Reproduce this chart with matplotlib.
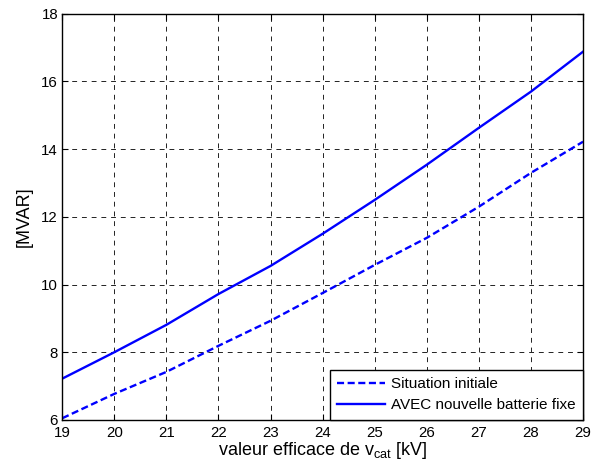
import matplotlib
matplotlib.use('Agg')
import matplotlib.pyplot as plt

plt.rcParams['font.family'] = ['Liberation Sans', 'DejaVu Sans']
plt.rcParams['mathtext.fontset'] = 'custom'
plt.rcParams['mathtext.rm'] = 'Liberation Sans'

# tension efficace [kV]
v_cat = [19, 20, 21, 22, 23, 24, 25, 26, 27, 28, 29]
# puissance reactive [MVAR]
q_initiale = [6.05, 6.77, 7.42, 8.19, 8.93, 9.75, 10.58, 11.38, 12.3, 13.3, 14.22]
q_batterie = [7.22, 8.0, 8.81, 9.72, 10.55, 11.5, 12.5, 13.54, 14.63, 15.7, 16.88]

fig, ax = plt.subplots(figsize=(5.98, 4.74), dpi=100)
fig.subplots_adjust(left=0.104, right=0.975, top=0.971, bottom=0.114)

ax.plot(v_cat, q_initiale, color='#0000ff', linestyle=(0, (3, 1.5)), linewidth=1.7,
        label='Situation initiale')
ax.plot(v_cat, q_batterie, color='#0000ff', linestyle='-', linewidth=1.7,
        label='AVEC nouvelle batterie fixe')

ax.set_xlim(19, 29)
ax.set_ylim(6, 18)
ax.set_xticks(range(19, 30))
ax.set_yticks(range(6, 19, 2))
ax.grid(True, color='#222222', linestyle=(0, (5, 5)), linewidth=0.7)
ax.tick_params(direction='in', top=True, right=True, labelsize=10.8, length=4)
ax.tick_params(axis='x', pad=4.5)
ax.tick_params(axis='y', pad=3)
for s in ax.spines.values():
    s.set_linewidth(1.0)

ax.set_xlabel('valeur efficace de v$_{\\mathregular{cat}}$ [kV]', fontsize=13, labelpad=0)
ax.set_ylabel('[MVAR]', fontsize=13, labelpad=6)

leg = ax.legend(loc='lower right', fontsize=11, fancybox=False, framealpha=1,
                edgecolor='black', borderaxespad=0, handlelength=3.1,
                handletextpad=0.4, borderpad=0.5, labelspacing=0.45)
leg.get_frame().set_linewidth(1.0)

fig.savefig('out.png', dpi=100)
